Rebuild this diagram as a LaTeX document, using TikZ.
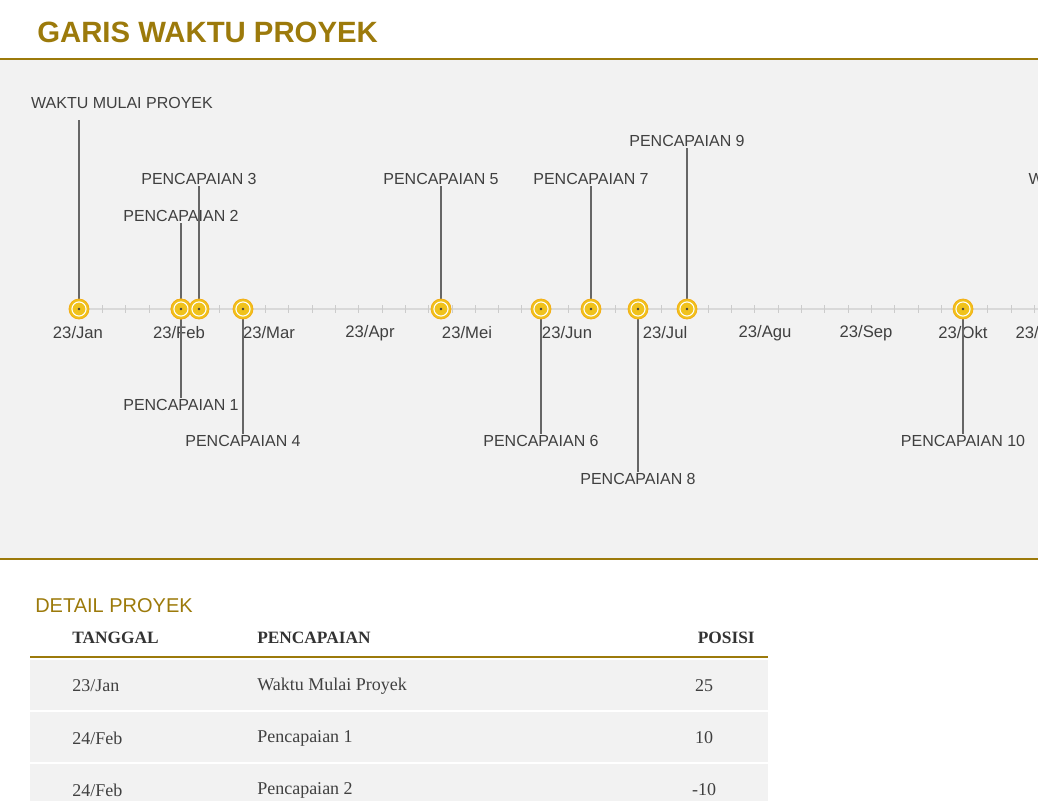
\documentclass[tikz,border=0pt]{standalone}
\usepackage{fontspec}
\setmainfont{Liberation Serif}
\newfontfamily\sansf{Liberation Sans}
\usetikzlibrary{positioning}
\definecolor{gold}{HTML}{9C7A0B}
\definecolor{mark}{HTML}{F0C21C}
\definecolor{panel}{HTML}{F2F2F2}
\definecolor{txt}{HTML}{404040}
\tikzset{
    lbl/.style={font=\sansf\fontsize{12}{14}\selectfont, text=txt, inner sep=1pt},
    month/.style={font=\sansf\fontsize{12.5}{14}\selectfont, text=txt, inner sep=1pt},
    stem/.style={draw=txt!80, line width=0.9pt},
    dot/.style={circle, fill=mark, draw=mark!70!orange, line width=0.6pt, minimum size=15pt, inner sep=0pt},
    cell/.style={font=\fontsize{13.5}{15}\selectfont, text=txt, anchor=west, inner sep=0pt},
    head/.style={font=\bfseries\fontsize{13}{15}\selectfont, text=black!80, inner sep=0pt}
}
\begin{document}
\begin{tikzpicture}[x=0.75pt, y=-0.75pt]
    \useasboundingbox (0,0) rectangle (1038,800);
    \clip (0,0) rectangle (1038,800);

    % Title and panel
    \node[font=\sansf\bfseries\fontsize{22}{26}\selectfont, text=gold, anchor=west, inner sep=0pt] (title) at (37,32) {GARIS WAKTU PROYEK};
    \fill[panel] (0,60) rectangle (1038,558);
    \draw[gold, line width=1.3pt] (0,59) -- (1038,59);
    \draw[gold, line width=1.3pt] (0,559) -- (1038,559);

    % Axis
    \draw[black!15, line width=1.2pt] (79,309) -- (1038,309);
    \foreach \t in {0,...,42} \draw[black!20] (79+23.3*\t,305) -- (79+23.3*\t,313);

    % Months
    \foreach \x/\m in {78/Jan,179/Feb,269/Mar,370/Apr,467/Mei,567/Jun,665/Jul,765/Agu,866/Sep,963/Okt,1042/Nov}
        \node[month] (m\m) at (\x,333) {23/\m};

    % Milestone labels
    \node[lbl] (l0) at (122,103) {WAKTU MULAI PROYEK};
    \node[lbl] (l1) at (181,405) {PENCAPAIAN 1};
    \node[lbl] (l2) at (181,216) {PENCAPAIAN 2};
    \node[lbl] (l3) at (199,179) {PENCAPAIAN 3};
    \node[lbl] (l4) at (243,441) {PENCAPAIAN 4};
    \node[lbl] (l5) at (441,179) {PENCAPAIAN 5};
    \node[lbl] (l6) at (541,441) {PENCAPAIAN 6};
    \node[lbl] (l7) at (591,179) {PENCAPAIAN 7};
    \node[lbl] (l8) at (638,479) {PENCAPAIAN 8};
    \node[lbl] (l9) at (687,141) {PENCAPAIAN 9};
    \node[lbl] (l10) at (963,441) {PENCAPAIAN 10};
    \node[lbl, anchor=west] (l11) at (1027,179) {WAKTU SELESAI PROYEK};

    % Stem anchors and markers
    \foreach \n/\x in {0/79,1/181,2/181,3/199,4/243,5/441,6/541,7/591,8/638,9/687,10/963}
        \coordinate (c\n) at (\x,309);
    \draw[stem] (c0) -- (c0 |- 0,120);
    \draw[stem] (c1) -- (c1 |- l1.north);
    \draw[stem] (c2) -- (c2 |- l2.south);
    \draw[stem] (c3) -- (c3 |- l3.south);
    \draw[stem] (c4) -- (c4 |- l4.north);
    \draw[stem] (c5) -- (c5 |- l5.south);
    \draw[stem] (c6) -- (c6 |- l6.north);
    \draw[stem] (c7) -- (c7 |- l7.south);
    \draw[stem] (c8) -- (c8 |- l8.north);
    \draw[stem] (c9) -- (c9 |- l9.south);
    \draw[stem] (c10) -- (c10 |- l10.north);
    \foreach \n in {0,...,10} {
        \node[dot] (d\n) at (c\n) {};
        \draw[white, line width=0.8pt] (c\n) circle (5.3pt);
        \fill[txt] (c\n) circle (1pt);
    }

    % Detail table
    \node[font=\sansf\fontsize{15}{17}\selectfont, text=gold, anchor=west, inner sep=0pt] (detail) at (35,606) {DETAIL PROYEK};
    \node[head, anchor=west] (hTgl) at (72,638) {TANGGAL};
    \node[head, anchor=west] (hPen) at (257,638) {PENCAPAIAN};
    \node[head, anchor=east] (hPos) at (755,638) {POSISI};
    \draw[gold, line width=1.3pt] (30,657) -- (768,657);
    \foreach \y in {660,712,764} \fill[panel] (30,\y) rectangle (768,\y+50);
    \foreach \y/\d/\p/\v in {686/23\slash Jan/Waktu Mulai Proyek/25, 738/24\slash Feb/Pencapaian 1/10, 790/24\slash Feb/Pencapaian 2/-10} {
        \node[cell] at (72,\y) {\d};
        \node[cell] at (257,\y) {\p};
        \node[cell, anchor=center] at (704,\y) {\v};
    }
\end{tikzpicture}
\end{document}
